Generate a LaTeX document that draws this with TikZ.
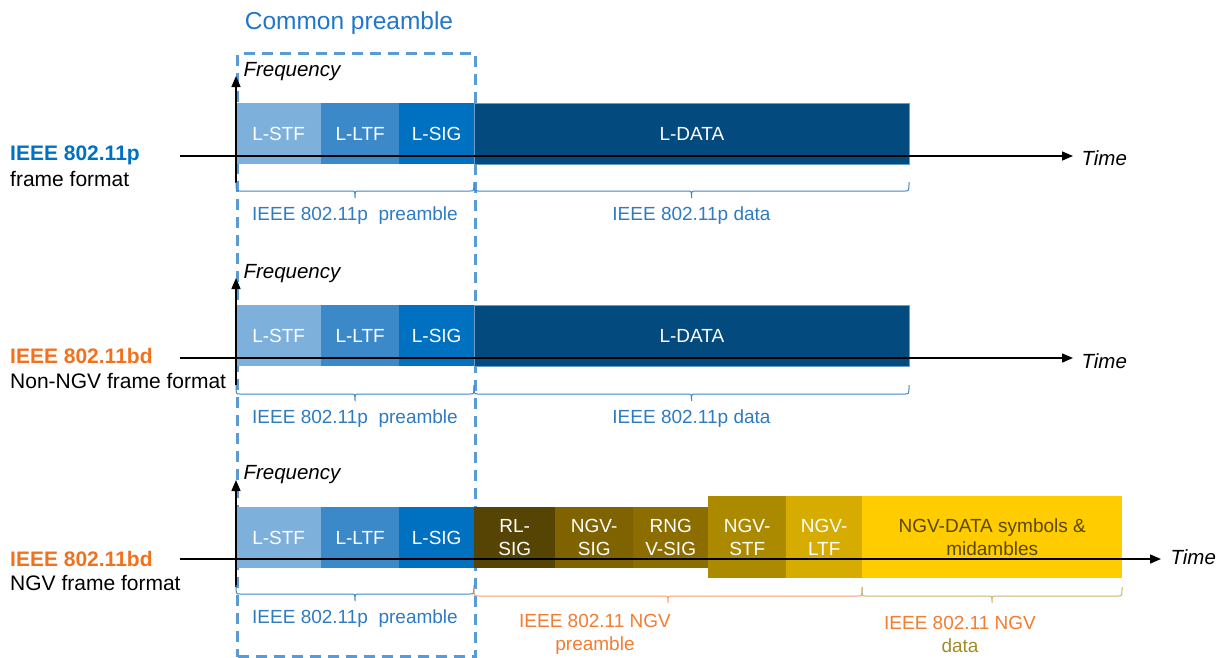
\documentclass[tikz,border=0pt]{standalone}
\usepackage{fontspec}
\setmainfont{Liberation Sans}
\usetikzlibrary{arrows.meta,calc}
\definecolor{cSTF}{HTML}{7DB0DB}
\definecolor{cLTF}{HTML}{3C89C9}
\definecolor{cSIG}{HTML}{0070C0}
\definecolor{cDATA}{HTML}{034A7E}
\definecolor{cDATAline}{HTML}{6A9BCB}
\definecolor{cRL}{HTML}{564404}
\definecolor{cNSIG}{HTML}{7F6300}
\definecolor{cRNG}{HTML}{8C6D00}
\definecolor{cNSTF}{HTML}{AC8A00}
\definecolor{cNLTF}{HTML}{D6AC00}
\definecolor{cNDATA}{HTML}{FFCC00}
\definecolor{cNDtext}{HTML}{5A4800}
\definecolor{dashblue}{HTML}{5B9BD5}
\definecolor{titleblue}{HTML}{2276C9}
\definecolor{lblblue}{HTML}{0070C0}
\definecolor{braceblue}{HTML}{3D86CA}
\definecolor{bracetext}{HTML}{2E7BC4}
\definecolor{lblorange}{HTML}{F2711C}
\definecolor{braceorange}{HTML}{F4A070}
\definecolor{textorange}{HTML}{F47C30}
\definecolor{braceolive}{HTML}{C8B46E}
\definecolor{textolive}{HTML}{A38B2B}
\tikzset{
  seg/.style={rectangle, inner sep=0pt, anchor=north west, text=white,
    font=\fontsize{19}{23}\selectfont, align=center},
  axisarrow/.style={line width=1.5pt, -{Triangle[length=11pt,width=9pt]}},
  blbl/.style={font=\fontsize{19}{23}\selectfont, align=center},
  axlbl/.style={font=\fontsize{20.5}{24}\selectfont\itshape, anchor=west},
  sidelbl/.style={font=\fontsize{21}{25}\selectfont, anchor=west, inner sep=0pt},
  brcline/.style={line width=1pt},
}
% brace: x1, x2, y (top of ends), colour, name of label anchor coordinate
\newcommand{\fbr}[5]{%
  \draw[brcline, #4] (#1,#3) .. controls (#1,#3+9) .. (#1+4,#3+9)
    -- ({(#1+#2)/2-4},#3+9) .. controls ({(#1+#2)/2},#3+9) .. ({(#1+#2)/2},#3+16)
    .. controls ({(#1+#2)/2},#3+9) .. ({(#1+#2)/2+4},#3+9)
    -- (#2-4,#3+9) .. controls (#2,#3+9) .. (#2,#3);
  \coordinate (#5) at ({(#1+#2)/2},#3+34);}
\begin{document}
\begin{tikzpicture}[x=1pt,y=-1pt]
\useasboundingbox (0,0) rectangle (1231,657);

% common preamble dashed box
\node[draw=dashblue, line width=3.3pt, dash pattern=on 11pt off 7pt, rectangle,
  minimum width=238pt, minimum height=603pt, inner sep=0pt, anchor=north west] (cp) at (236,52) {};
\node[font=\fontsize{24.5}{28}\selectfont, text=titleblue] (cptitle) at (349,23) {Common preamble};

% ---------- Row 1 ----------
\node[seg, fill=cSTF, minimum width=85pt, minimum height=61pt] (a1) at (236,103) {L-STF};
\node[seg, fill=cLTF, minimum width=78pt, minimum height=61pt] (b1) at (321,103) {L-LTF};
\node[seg, fill=cSIG, minimum width=75pt, minimum height=61pt] (c1) at (399,103) {L-SIG};
\node[seg, fill=cDATA, draw=cDATAline, line width=0.8pt, minimum width=435pt, minimum height=61pt] (d1) at (474,103) {L-DATA};

\coordinate (h1s) at (180,156); \coordinate (h1e) at (1073,156);
\coordinate (v1s) at (236,183); \coordinate (v1e) at (236,76);
\draw[axisarrow] (h1s) -- (h1e);
\draw[axisarrow] (v1s) -- (v1e);
\node[axlbl] (t1) at (1078,158) {Time};
\node[axlbl] (f1) at (240,72) {Frequency};

\fbr{236}{474}{182}{braceblue}{bp1}
\fbr{474}{909}{182}{braceblue}{bd1}
\node[blbl, text=bracetext] (p1) at (bp1) {IEEE 802.11p\ \ preamble};
\node[blbl, text=bracetext] (q1) at (bd1) {IEEE 802.11p data};

\node[sidelbl, font=\fontsize{21}{25}\selectfont\bfseries, text=lblblue] (l1a) at (10,155) {IEEE 802.11p};
\node[sidelbl] (l1b) at (10,179) {frame format};

% ---------- Row 2 ----------
\node[seg, fill=cSTF, minimum width=85pt, minimum height=61pt] (a2) at (236,305) {L-STF};
\node[seg, fill=cLTF, minimum width=78pt, minimum height=61pt] (b2) at (321,305) {L-LTF};
\node[seg, fill=cSIG, minimum width=75pt, minimum height=61pt] (c2) at (399,305) {L-SIG};
\node[seg, fill=cDATA, draw=cDATAline, line width=0.8pt, minimum width=435pt, minimum height=61pt] (d2) at (474,305) {L-DATA};

\coordinate (h2s) at (180,358); \coordinate (h2e) at (1073,358);
\coordinate (v2s) at (236,385); \coordinate (v2e) at (236,278);
\draw[axisarrow] (h2s) -- (h2e);
\draw[axisarrow] (v2s) -- (v2e);
\node[axlbl] (t2) at (1078,361) {Time};
\node[axlbl] (f2) at (240,274) {Frequency};

\fbr{236}{474}{385}{braceblue}{bp2}
\fbr{474}{909}{385}{braceblue}{bd2}
\node[blbl, text=bracetext] (p2) at (bp2) {IEEE 802.11p\ \ preamble};
\node[blbl, text=bracetext] (q2) at (bd2) {IEEE 802.11p data};

\node[sidelbl, font=\fontsize{21}{25}\selectfont\bfseries, text=lblorange] (l2a) at (10,356) {IEEE 802.11bd};
\node[sidelbl] (l2b) at (10,381) {Non-NGV frame format};

% ---------- Row 3 ----------
\node[seg, fill=cSTF, minimum width=85pt, minimum height=61pt] (a3) at (236,507) {L-STF};
\node[seg, fill=cLTF, minimum width=78pt, minimum height=61pt] (b3) at (321,507) {L-LTF};
\node[seg, fill=cSIG, minimum width=75pt, minimum height=61pt] (c3) at (399,507) {L-SIG};
\node[seg, fill=cRL, minimum width=81pt, minimum height=61pt] (r3) at (474,507) {RL-\\SIG};
\node[seg, fill=cNSIG, minimum width=78pt, minimum height=61pt] (n3) at (555,507) {NGV-\\SIG};
\node[seg, fill=cRNG, minimum width=75pt, minimum height=61pt] (g3) at (633,507) {RNG\\V-SIG};
\node[seg, fill=cNSTF, minimum width=78pt, minimum height=82pt] (s3) at (708,496) {NGV-\\STF};
\node[seg, fill=cNLTF, minimum width=76pt, minimum height=82pt] (l3) at (786,496) {NGV-\\LTF};
\node[seg, fill=cNDATA, text=cNDtext, minimum width=260pt, minimum height=82pt] (d3) at (862,496) {NGV-DATA symbols \&\\midambles};

\coordinate (h3s) at (180,559); \coordinate (h3e) at (1161,559);
\coordinate (v3s) at (236,587); \coordinate (v3e) at (236,480);
\draw[axisarrow] (h3s) -- (h3e);
\draw[axisarrow] (v3s) -- (v3e);
\node[axlbl] (t3) at (1167,557) {Time};
\node[axlbl] (f3) at (240,475) {Frequency};

\fbr{236}{474}{585}{braceblue}{bp3}
\fbr{474}{862}{587}{braceorange}{bo3}
\fbr{862}{1122}{587}{braceolive}{bg3}
\node[blbl, text=bracetext] (p3) at (bp3) {IEEE 802.11p\ \ preamble};
\node[blbl, text=textorange] (np) at (595,634) {IEEE 802.11 NGV\\preamble};
\node[blbl] (nd) at (960,634) {\textcolor{textorange}{IEEE 802.11 NGV}\\\textcolor{textolive}{data}};

\node[sidelbl, font=\fontsize{21}{25}\selectfont\bfseries, text=lblorange] (l3a) at (10,559) {IEEE 802.11bd};
\node[sidelbl] (l3b) at (10,583) {NGV frame format};
\end{tikzpicture}
\end{document}
